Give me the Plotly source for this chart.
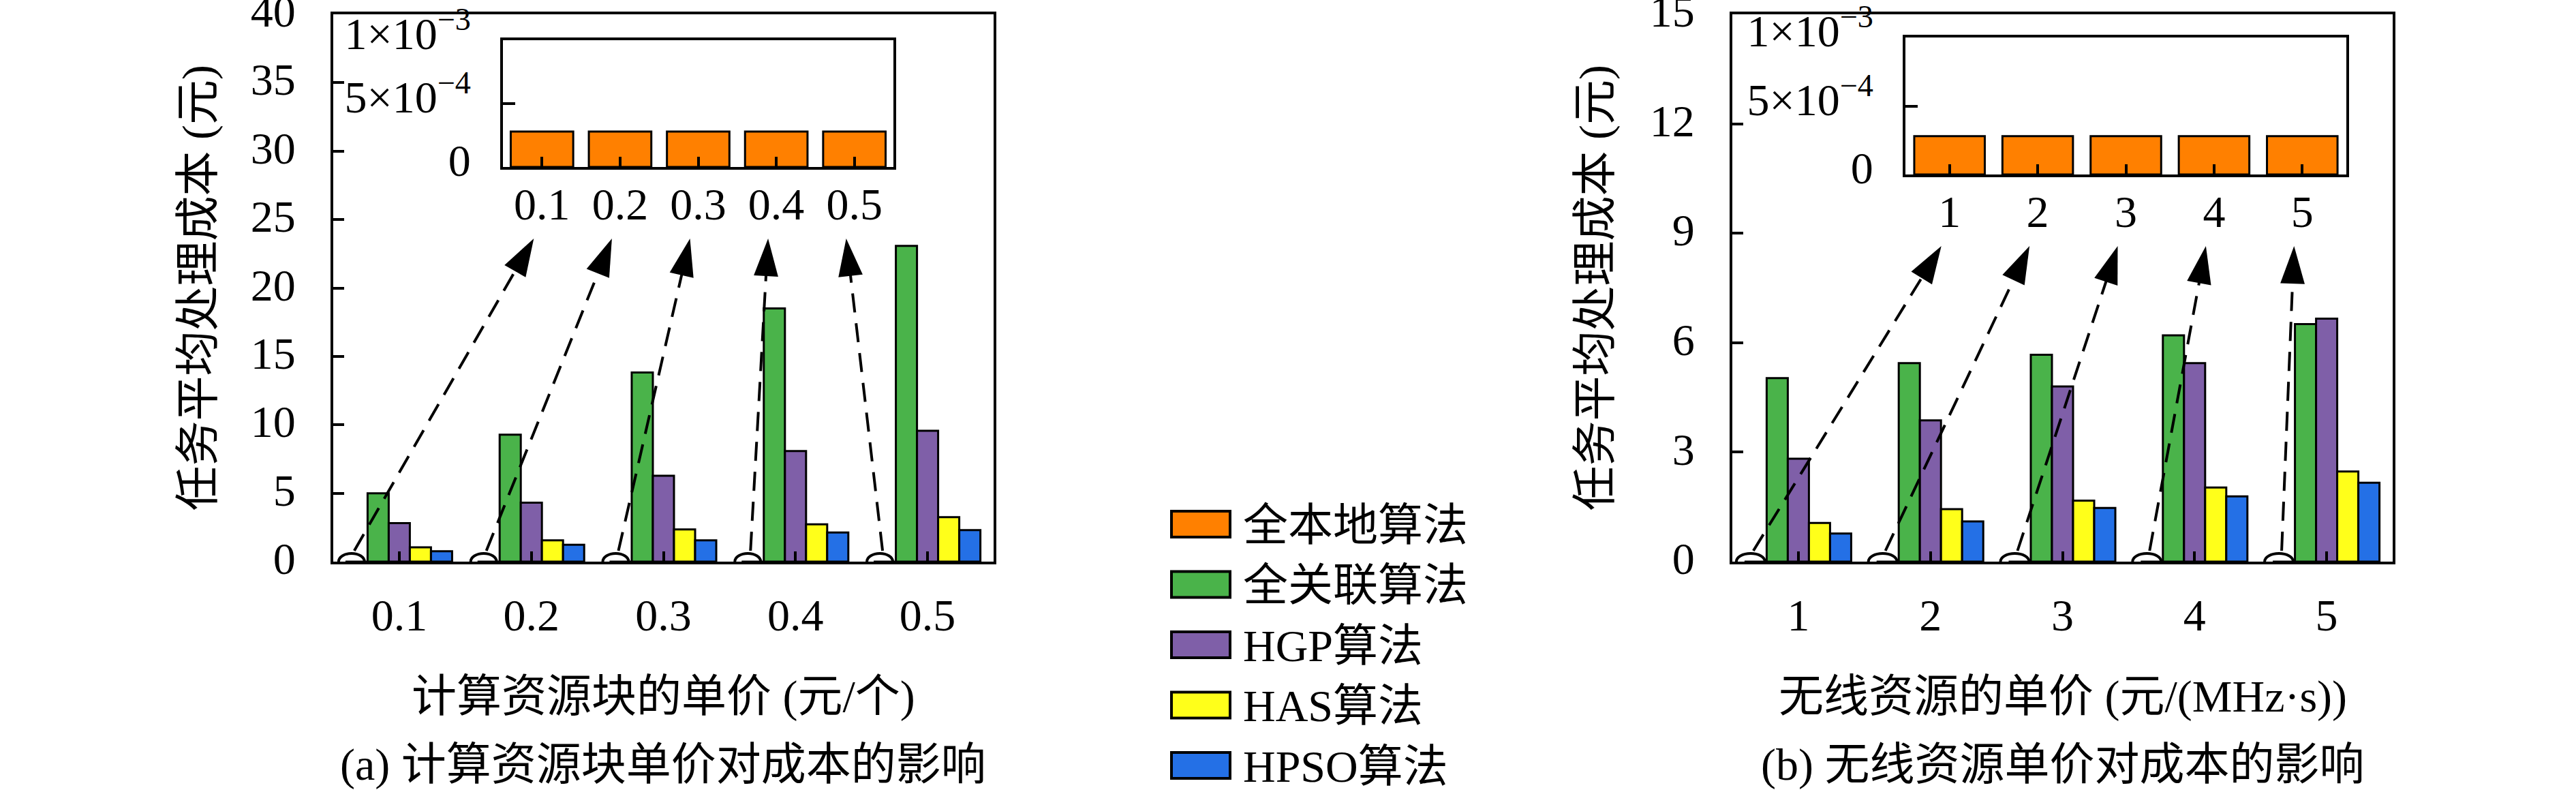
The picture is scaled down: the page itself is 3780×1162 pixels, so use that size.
import plotly.graph_objects as go

W, H = 3780, 1162
FONT = "Liberation Serif, Noto Sans CJK SC, serif"
FS = 66

algos = ["全本地算法", "全关联算法", "HGP算法", "HAS算法", "HPSO算法"]
colors = ["#FF8000", "#4AB34A", "#7F5FA8", "#FFFF1A", "#2470E6"]

# (a) compute resource block unit price
compute_price = ["0.1", "0.2", "0.3", "0.4", "0.5"]
cost_a_local = [2.8e-4, 2.8e-4, 2.8e-4, 2.8e-4, 2.8e-4]
cost_a_full = [5.0, 9.28, 13.82, 18.51, 23.07]
cost_a_hgp = [2.81, 4.31, 6.28, 8.08, 9.56]
cost_a_has = [1.04, 1.56, 2.35, 2.73, 3.25]
cost_a_hpso = [0.76, 1.23, 1.56, 2.13, 2.30]

# (b) wireless resource unit price
radio_price = ["1", "2", "3", "4", "5"]
cost_b_local = [2.8e-4, 2.8e-4, 2.8e-4, 2.8e-4, 2.8e-4]
cost_b_full = [5.03, 5.44, 5.67, 6.20, 6.51]
cost_b_hgp = [2.82, 3.87, 4.80, 5.44, 6.66]
cost_b_has = [1.06, 1.44, 1.67, 2.03, 2.47]
cost_b_hpso = [0.77, 1.10, 1.47, 1.79, 2.16]

inset_ticks = [0, 5e-4, 1e-3]
inset_ticktext = ["0", "5×10<sup>−4</sup>", "1×10<sup>−3</sup>"]

ytitle = "任务平均处理成本 (元)"

panels = [
    dict(labels=compute_price, series=[cost_a_local, cost_a_full, cost_a_hgp, cost_a_has, cost_a_hpso],
         ymax=40, dtick=5, main=(489, 1458, 21, 824), inset=(738, 1311, 59, 245),
         xtitle="计算资源块的单价 (元/个)", caption="(a) 计算资源块单价对成本的影响",
         ytitle_x=290, ell=(38, 24)),
    dict(labels=radio_price, series=[cost_b_local, cost_b_full, cost_b_hgp, cost_b_has, cost_b_hpso],
         ymax=15, dtick=3, main=(2542, 3511, 21, 824), inset=(2796, 3443, 55, 256),
         xtitle="无线资源的单价 (元/(MHz·s))", caption="(b) 无线资源单价对成本的影响",
         ytitle_x=2340, ell=(42, 24)),
]


def px_x(p):
    return p / W


def px_y(p):
    return 1 - p / H


fig = go.Figure()
shapes = []
annotations = []
axis_line = dict(showline=True, linecolor="black", linewidth=4, mirror=True,
                 ticks="inside", tickcolor="black", tickwidth=4,
                 showgrid=False, zeroline=False, automargin=False,
                 ticklabeloverflow="allow",
                 tickfont=dict(family=FONT, size=FS, color="black"))

n = len(algos)
slot = 0.8 / n

for k, p in enumerate(panels):
    mx = "x" if k == 0 else "x3"
    my = "y" if k == 0 else "y3"
    ix = "x2" if k == 0 else "x4"
    iy = "y2" if k == 0 else "y4"
    xs = list(range(len(p["labels"])))

    # main grouped bars
    for name, col, vals in zip(algos, colors, p["series"]):
        fig.add_trace(go.Bar(x=xs, y=vals, name=name, xaxis=mx, yaxis=my,
                             marker=dict(color=col, line=dict(color="black", width=3)),
                             showlegend=False))
    # inset: local-only algorithm, zoomed
    fig.add_trace(go.Bar(x=xs, y=p["series"][0], name=algos[0], xaxis=ix, yaxis=iy,
                         marker=dict(color=colors[0], line=dict(color="black", width=3)),
                         showlegend=False))

    x0, x1, y0, y1 = p["main"]
    i0, i1, j0, j1 = p["inset"]
    step = (x1 - x0) / len(xs)
    ppu = (y1 - y0) / p["ymax"]
    istep = (i1 - i0) / len(xs)

    main_x = dict(axis_line, domain=[px_x(x0), px_x(x1)], range=[-0.5, len(xs) - 0.5],
                  tickvals=xs, ticktext=p["labels"], ticklen=15, ticklabelstandoff=18,
                  anchor=my)
    main_y = dict(axis_line, domain=[px_y(y1), px_y(y0)], range=[0, p["ymax"]],
                  dtick=p["dtick"], ticklen=16, ticklabelstandoff=38, ticklabelshift=-5,
                  anchor=mx)
    in_x = dict(axis_line, domain=[px_x(i0), px_x(i1)], range=[-0.5, len(xs) - 0.5],
                tickvals=xs, ticktext=p["labels"], ticklen=15, ticklabelstandoff=-6,
                anchor=iy)
    in_y = dict(axis_line, domain=[px_y(j1), px_y(j0)], range=[0, 1e-3],
                tickvals=inset_ticks, ticktext=inset_ticktext, ticklen=18,
                ticklabelstandoff=30, ticklabelshift=-10, anchor=ix)
    if k == 0:
        fig.update_layout(xaxis=main_x, yaxis=main_y, xaxis2=in_x, yaxis2=in_y)
    else:
        fig.update_layout(xaxis3=main_x, yaxis3=main_y, xaxis4=in_x, yaxis4=in_y)

    # ellipses around the (invisible) local bars + dashed arrows to inset labels
    ew, eh = p["ell"]
    for i in xs:
        xc = i - 2 * slot
        shapes.append(dict(type="circle", xref=mx, yref=my, xsizemode="pixel", ysizemode="pixel",
                           xanchor=xc, yanchor=0, x0=-ew / 2 - 8, x1=ew / 2 - 8, y0=-eh / 2, y1=eh / 2,
                           line=dict(color="black", width=4), fillcolor="rgba(0,0,0,0)"))
        tip_px = i0 + (i + 0.5) * istep - 12
        tip_x = (tip_px - x0) / step - 0.5
        tip_y = (y1 - (j1 + 105)) / ppu
        tail_x = xc - 4 / step
        tail_y = 16 / ppu
        fig.add_trace(go.Scatter(x=[tail_x, tip_x], y=[tail_y, tip_y], xaxis=mx, yaxis=my,
                                 mode="lines+markers", showlegend=False, hoverinfo="skip",
                                 line=dict(color="black", width=4, dash="28px,16px"),
                                 marker=dict(symbol="arrow", size=[0, 58], color="black",
                                             opacity=1, angleref="previous",
                                             line=dict(width=0))))

    annotations.append(dict(text=p["xtitle"], x=px_x((x0 + x1) / 2), y=px_y(1022),
                            xref="paper", yref="paper", showarrow=False,
                            xanchor="center", yanchor="middle",
                            font=dict(family=FONT, size=FS, color="black")))
    annotations.append(dict(text=p["caption"], x=px_x((x0 + x1) / 2), y=px_y(1122),
                            xref="paper", yref="paper", showarrow=False,
                            xanchor="center", yanchor="middle",
                            font=dict(family=FONT, size=FS, color="black")))
    annotations.append(dict(text=ytitle, x=px_x(p["ytitle_x"]), y=px_y((y0 + y1) / 2),
                            xref="paper", yref="paper", showarrow=False, textangle=-90,
                            xanchor="center", yanchor="middle",
                            font=dict(family=FONT, size=FS, color="black")))

# legend drawn by hand so the swatches match the original size
for k, (name, col) in enumerate(zip(algos, colors)):
    cy = 769 + 88.5 * k
    shapes.append(dict(type="rect", xref="paper", yref="paper",
                       x0=px_x(1719), x1=px_x(1805), y0=px_y(cy + 19), y1=px_y(cy - 19),
                       fillcolor=col, line=dict(color="black", width=4)))
    annotations.append(dict(text=name, x=px_x(1822), y=px_y(cy + 1), xref="paper", yref="paper",
                            showarrow=False, xanchor="left", yanchor="middle",
                            font=dict(family=FONT, size=FS, color="black")))

fig.update_layout(width=W, height=H, margin=dict(l=0, r=0, t=0, b=0),
                  paper_bgcolor="white", plot_bgcolor="white",
                  barmode="group", bargap=0.2, bargroupgap=0,
                  showlegend=False, shapes=shapes, annotations=annotations)

# drop the default 8px page margin so the figure fills the window exactly
fig.write_html("out.html", config={"displayModeBar": False},
               post_script="document.body.style.margin='0';")
